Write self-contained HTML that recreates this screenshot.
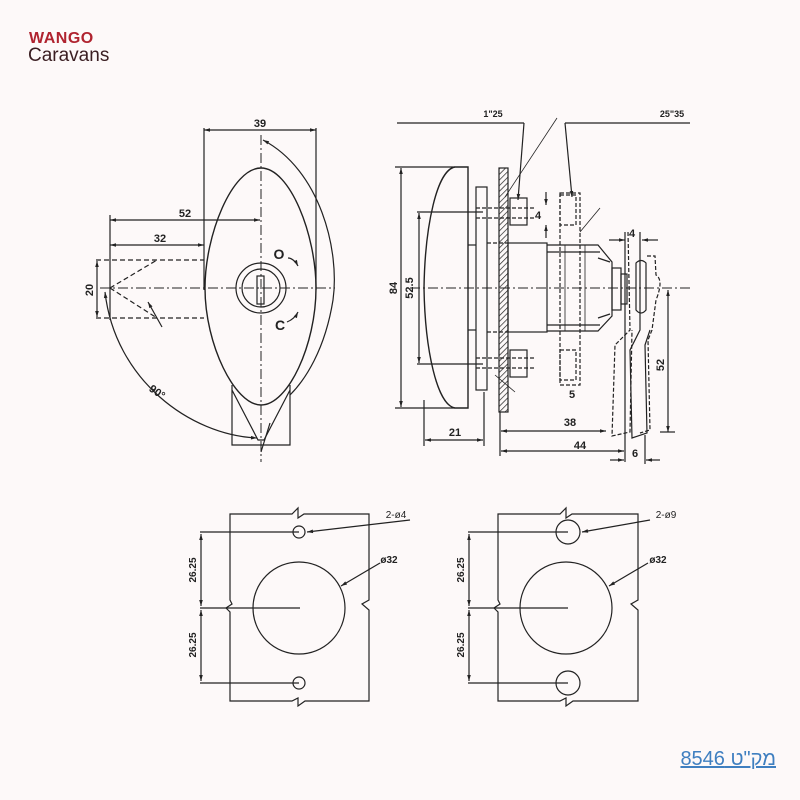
<!DOCTYPE html>
<html><head><meta charset="utf-8"><style>
html,body{margin:0;padding:0;background:#fdf9f9;}
body{width:800px;height:800px;position:relative;overflow:hidden;font-family:"Liberation Sans",sans-serif;}
svg{position:absolute;left:0;top:0;}
.sku{position:absolute;left:664px;top:748px;width:112px;font-size:20px;color:#3f7fc0;text-decoration:underline;font-family:"Liberation Sans","DejaVu Sans",sans-serif;direction:rtl;text-align:right;}
</style></head><body>
<svg width="800" height="800" viewBox="0 0 800 800" xmlns="http://www.w3.org/2000/svg" font-family="Liberation Sans, sans-serif">
<defs>
<marker id="a" viewBox="0 0 10 10" refX="10" refY="5" markerWidth="7" markerHeight="5" orient="auto-start-reverse"><path d="M0,2 L10,5 L0,8z" fill="#222"/></marker>
<pattern id="h" width="4" height="4" patternUnits="userSpaceOnUse" patternTransform="rotate(45)"><line x1="0" y1="0" x2="0" y2="4" stroke="#222" stroke-width="1.4"/></pattern>
</defs>
<!-- logo -->
<text x="29" y="43" font-size="16" font-weight="bold" fill="#b0232f" letter-spacing="0.5">WANGO</text>
<text x="28" y="61" font-size="19" fill="#3a1e22">Caravans</text>

<g fill="none" stroke="#222" stroke-width="1.2">
<!-- LEFT FRONT VIEW -->
<line x1="204" y1="130" x2="316" y2="130" marker-start="url(#a)" marker-end="url(#a)"/>
<line x1="204" y1="128" x2="204" y2="290"/>
<line x1="316" y1="128" x2="316" y2="290"/>
<line x1="261" y1="135" x2="261" y2="462" stroke-dasharray="10,3,2,3" stroke-width="1"/>
<line x1="100" y1="288" x2="335" y2="288" stroke-dasharray="10,3,2,3" stroke-width="1"/>
<path d="M261,168 C232,168 205,235 205,288 C205,345 235,405 261,405 C288,405 316,345 316,288 C316,235 290,168 261,168Z" stroke-width="1.4"/>
<path d="M232,385 L232,445 L290,445 L290,385 M232,390 L258,440 L264,440 L290,390"/>
<circle cx="261" cy="288" r="25"/>
<circle cx="261" cy="288" r="19"/>
<rect x="257" y="276" width="7" height="28"/>
<line x1="110" y1="220" x2="260" y2="220" marker-start="url(#a)" marker-end="url(#a)"/>
<line x1="110" y1="245" x2="204" y2="245" marker-start="url(#a)" marker-end="url(#a)"/>
<line x1="110" y1="215" x2="110" y2="320"/>
<line x1="96" y1="260" x2="204" y2="260" stroke-dasharray="5,3"/>
<line x1="96" y1="318" x2="204" y2="318" stroke-dasharray="5,3"/>
<line x1="97" y1="261" x2="97" y2="317" marker-start="url(#a)" marker-end="url(#a)"/>
<line x1="110" y1="288" x2="157" y2="260" stroke-dasharray="5,3"/>
<line x1="110" y1="288" x2="157" y2="318" stroke-dasharray="5,3"/>
<line x1="162" y1="327" x2="148" y2="302" marker-end="url(#a)"/>
<path d="M263,140 C320,170 340,250 333,300 C325,350 305,380 290,395" marker-start="url(#a)"/>
<path d="M105,292 C115,380 190,435 257,438" marker-start="url(#a)" marker-end="url(#a)"/>
<line x1="270" y1="423" x2="261" y2="452"/>
<path d="M288,258 C292,258 296,262 298,266" marker-end="url(#a)"/>
<path d="M287,322 C292,320 296,316 298,312" marker-end="url(#a)"/>

<!-- RIGHT SIDE VIEW -->
<line x1="397" y1="123" x2="524" y2="123"/>
<line x1="524" y1="123" x2="518" y2="200" marker-end="url(#a)"/>
<line x1="565" y1="123" x2="690" y2="123"/>
<line x1="565" y1="123" x2="572" y2="197" marker-end="url(#a)"/>
<line x1="505" y1="197" x2="557" y2="118" stroke-width="0.8"/>
<line x1="580" y1="232" x2="600" y2="208" stroke-width="0.8"/>
<line x1="410" y1="288" x2="690" y2="288" stroke-dasharray="10,3,2,3" stroke-width="1"/>
<path d="M468,167 L455,167 C437,170 425,225 424,288 C425,350 437,405 455,408 L468,408 Z" stroke-width="1.4"/>
<line x1="395" y1="167" x2="455" y2="167"/>
<line x1="395" y1="408" x2="455" y2="408"/>
<line x1="401" y1="168" x2="401" y2="407" marker-start="url(#a)" marker-end="url(#a)"/>
<line x1="417" y1="212" x2="483" y2="212"/>
<line x1="417" y1="364" x2="483" y2="364"/>
<line x1="419" y1="213" x2="419" y2="363" marker-start="url(#a)" marker-end="url(#a)"/>
<line x1="424" y1="400" x2="424" y2="446"/>
<line x1="484" y1="392" x2="484" y2="446"/>
<line x1="425" y1="440" x2="483" y2="440" marker-start="url(#a)" marker-end="url(#a)"/>
<rect x="476" y="187" width="11" height="203"/>
<line x1="468" y1="245" x2="476" y2="245"/>
<line x1="468" y1="330" x2="476" y2="330"/>
<rect x="499" y="168" width="9" height="244" fill="url(#h)"/>
<rect x="510" y="198" width="17" height="27"/>
<rect x="510" y="350" width="17" height="27"/>
<line x1="476" y1="208" x2="535" y2="208" stroke-dasharray="4,2"/>
<line x1="476" y1="218" x2="535" y2="218" stroke-dasharray="4,2"/>
<line x1="476" y1="358" x2="535" y2="358" stroke-dasharray="4,2"/>
<line x1="476" y1="368" x2="535" y2="368" stroke-dasharray="4,2"/>
<line x1="495" y1="375" x2="515" y2="392" stroke-width="0.8"/>
<line x1="546" y1="192" x2="546" y2="205" marker-end="url(#a)"/>
<line x1="546" y1="238" x2="546" y2="225" marker-end="url(#a)"/>
<line x1="487" y1="243" x2="508" y2="243" stroke-dasharray="4,2"/>
<line x1="487" y1="332" x2="508" y2="332" stroke-dasharray="4,2"/>
<rect x="508" y="243" width="39" height="89"/>
<path d="M547,245 L598,245 L612,262 L612,316 L598,331 L547,331"/>
<line x1="547" y1="252" x2="600" y2="252"/>
<line x1="547" y1="325" x2="600" y2="325"/>
<line x1="565" y1="245" x2="565" y2="331" stroke-width="0.8"/>
<line x1="585" y1="245" x2="585" y2="331" stroke-width="0.8"/>
<line x1="598" y1="258" x2="610" y2="262"/>
<line x1="598" y1="318" x2="610" y2="314"/>
<rect x="612" y="268" width="9" height="42"/>
<rect x="621" y="274" width="6" height="30"/>
<rect x="560" y="193" width="20" height="192" stroke-dasharray="4,2"/>
<rect x="560" y="195" width="16" height="30" stroke-dasharray="4,2"/>
<rect x="560" y="350" width="16" height="30" stroke-dasharray="4,2"/>
<path d="M636,263 Q641,258 646,263 L646,310 Q641,316 636,310Z"/>
<path d="M647,256 L655,256 L656,275 Q664,280 656,300 L652,330 L648,340 L650,430 L640,433" stroke-dasharray="4,2"/>
<path d="M628,232 L630,330 L615,345 L612,436 L630,432 L632,330" stroke-dasharray="4,2"/>
<path d="M640,255 L640,330 L630,350 L632,438 L647,433 L645,345 L650,330" />
<line x1="609" y1="240" x2="625" y2="240" marker-end="url(#a)"/>
<line x1="658" y1="240" x2="642" y2="240" marker-end="url(#a)"/>
<line x1="625" y1="232" x2="625" y2="462"/>
<line x1="640" y1="232" x2="640" y2="255"/>
<line x1="668" y1="290" x2="668" y2="432" marker-start="url(#a)" marker-end="url(#a)"/>
<line x1="660" y1="432" x2="675" y2="432"/>
<line x1="500" y1="412" x2="500" y2="456"/>
<line x1="501" y1="431" x2="606" y2="431" marker-start="url(#a)" marker-end="url(#a)"/>
<line x1="501" y1="451" x2="624" y2="451" marker-start="url(#a)" marker-end="url(#a)"/>
<line x1="645" y1="435" x2="645" y2="464"/>
<line x1="610" y1="460" x2="624" y2="460" marker-end="url(#a)"/>
<line x1="660" y1="460" x2="646" y2="460" marker-end="url(#a)"/>

<!-- BOTTOM LEFT -->
<path d="M230,514 L292,514 L298,508 L298,518 L304,514 L369,514 L369,600 L362,604 L369,610 L369,701 L305,701 L298,706 L298,698 L292,701 L230,701 L230,612 L226,608 L232,604 L230,600 Z"/>
<circle cx="299" cy="532" r="6"/>
<circle cx="299" cy="683" r="6"/>
<circle cx="299" cy="608" r="46"/>
<line x1="200" y1="532" x2="299" y2="532"/>
<line x1="200" y1="683" x2="299" y2="683"/>
<line x1="200" y1="608" x2="300" y2="608"/>
<line x1="201" y1="534" x2="201" y2="606" marker-start="url(#a)" marker-end="url(#a)"/>
<line x1="201" y1="610" x2="201" y2="681" marker-start="url(#a)" marker-end="url(#a)"/>
<line x1="410" y1="520" x2="307" y2="532" marker-end="url(#a)"/>
<line x1="380" y1="563" x2="341" y2="586" marker-end="url(#a)"/>

<!-- BOTTOM RIGHT -->
<path d="M498,514 L560,514 L566,508 L566,518 L572,514 L638,514 L638,600 L631,604 L638,610 L638,701 L573,701 L566,706 L566,698 L560,701 L498,701 L498,612 L494,608 L500,604 L498,600 Z"/>
<circle cx="568" cy="532" r="12"/>
<circle cx="568" cy="683" r="12"/>
<circle cx="566" cy="608" r="46"/>
<line x1="468" y1="532" x2="568" y2="532"/>
<line x1="468" y1="683" x2="568" y2="683"/>
<line x1="468" y1="608" x2="568" y2="608"/>
<line x1="469" y1="534" x2="469" y2="606" marker-start="url(#a)" marker-end="url(#a)"/>
<line x1="469" y1="610" x2="469" y2="681" marker-start="url(#a)" marker-end="url(#a)"/>
<line x1="650" y1="520" x2="582" y2="532" marker-end="url(#a)"/>
<line x1="648" y1="563" x2="609" y2="586" marker-end="url(#a)"/>
</g>

<g fill="#222" font-size="11" font-weight="bold" text-anchor="middle">
<text x="260" y="127">39</text>
<text x="185" y="217">52</text>
<text x="160" y="242">32</text>
<text transform="translate(93,290) rotate(-90)">20</text>
<text x="279" y="259" font-size="14">O</text>
<text x="280" y="330" font-size="14">C</text>
<text transform="translate(155,395) rotate(35)">90°</text>
<text x="493" y="117" font-size="9">1"25</text>
<text x="672" y="117" font-size="9">25"35</text>
<text transform="translate(397,288) rotate(-90)">84</text>
<text transform="translate(413,288) rotate(-90)">52.5</text>
<text x="455" y="436">21</text>
<text x="538" y="219">4</text>
<text x="572" y="398">5</text>
<text x="632" y="237">4</text>
<text transform="translate(664,365) rotate(-90)">52</text>
<text x="570" y="426">38</text>
<text x="580" y="449">44</text>
<text x="635" y="457">6</text>
<text transform="translate(196,570) rotate(-90)" font-size="10">26.25</text>
<text transform="translate(196,645) rotate(-90)" font-size="10">26.25</text>
<text transform="translate(464,570) rotate(-90)" font-size="10">26.25</text>
<text transform="translate(464,645) rotate(-90)" font-size="10">26.25</text>
<text x="396" y="518" font-size="10" font-weight="normal">2-ø4</text>
<text x="389" y="563" font-size="10">ø32</text>
<text x="666" y="518" font-size="10" font-weight="normal">2-ø9</text>
<text x="658" y="563" font-size="10">ø32</text>
</g>
</svg>
<div class="sku" dir="rtl">מק"ט 8546</div>
</body></html>
